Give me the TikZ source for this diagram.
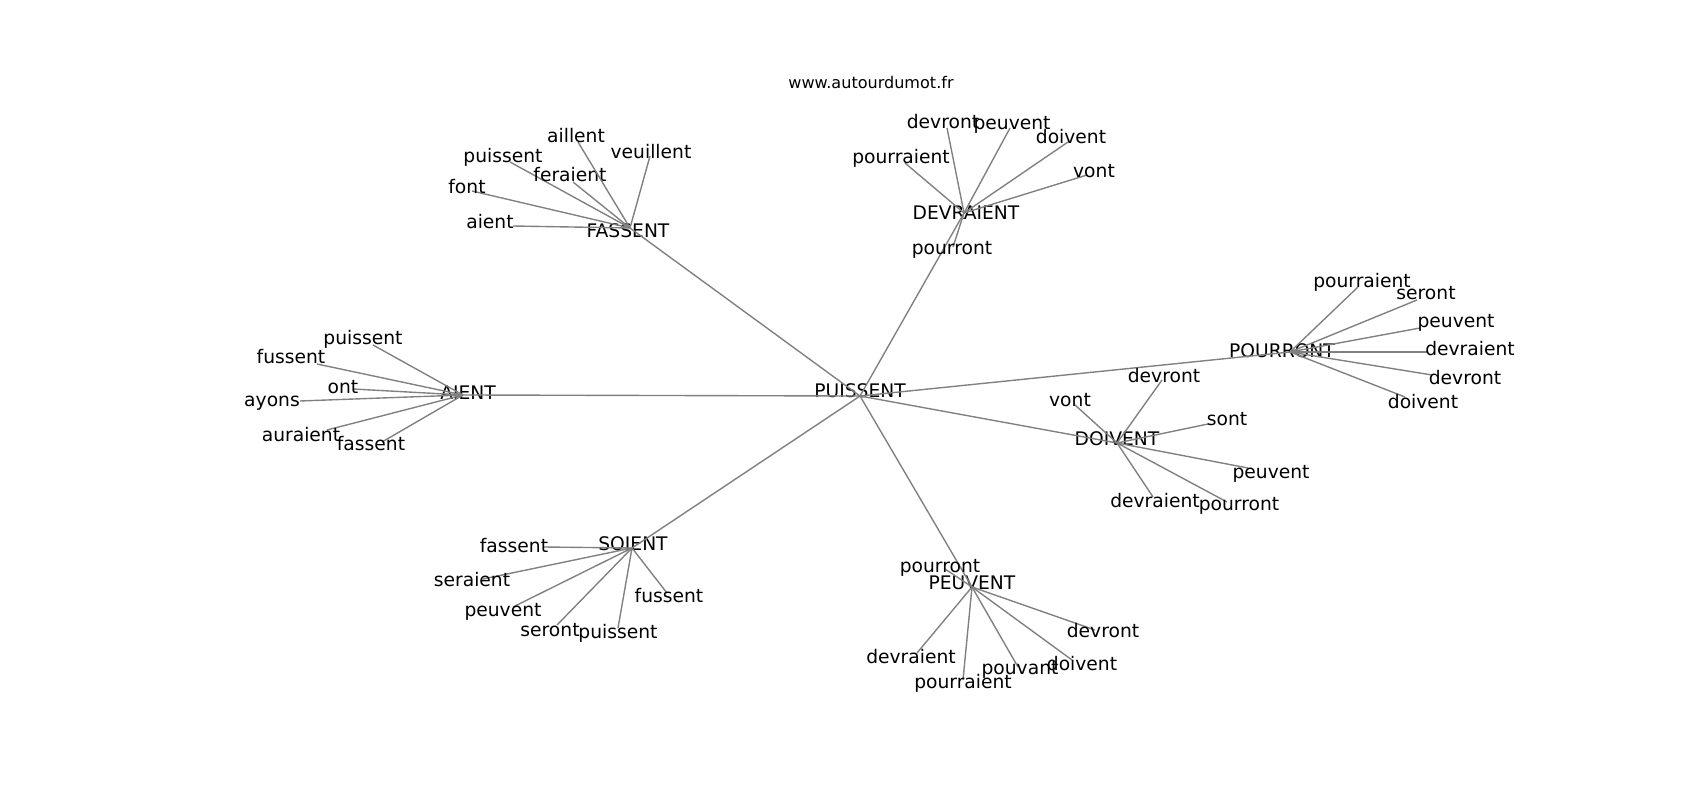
\documentclass[tikz,border=0pt]{standalone}
\usepackage{fontspec}
\setmainfont{DejaVu Sans}
\begin{document}
\begin{tikzpicture}[x=0.01in, y=-0.01in,
        edge/.style={draw=black!50, line width=1pt},
        word/.style={font=\fontsize{13.5}{16}\selectfont, inner sep=0pt, text height=10.3pt, text depth=2.8pt}]
        \def\hub#1(#2)(#3)#4{\coordinate (#1) at (#2); \node[word] (#1-t) at (#3) {#4};}
        \def\leaf#1#2(#3)(#4)#5{\coordinate (#1-#2) at (#3); \draw[edge] (#1) -- (#1-#2);
        \node[word] (#1-#2-t) at (#4) {#5};}

        \useasboundingbox (0,0) rectangle (1700,800);
        \node[font=\fontsize{11.6}{14}\selectfont, inner sep=0pt] (site) at (871,83) {www.autourdumot.fr};

        \hub puissent(860,396)(860,392){PUISSENT}
        \hub fassent(630,228)(628,232){FASSENT}
        \hub devraient(964,213)(966,214){DEVRAIENT}
        \hub pourront(1290,352)(1282,352){POURRONT}
        \hub doivent(1117,443)(1117,440){DOIVENT}
        \hub peuvent(972,587)(972,584){PEUVENT}
        \hub soient(632,548)(633,545){SOIENT}
        \hub aient(463,395)(468,394){AIENT}
        \foreach \h in {fassent, devraient, pourront, doivent, peuvent, soient, aient}
            \draw[edge] (puissent) -- (\h);

        \leaf{fassent}{aient}(513,226)(490,223){aient}
        \leaf{fassent}{font}(472,191)(467,188){font}
        \leaf{fassent}{puissent}(510,162)(503,157){puissent}
        \leaf{fassent}{feraient}(573,182)(570,176){feraient}
        \leaf{fassent}{aillent}(578,142)(576,137){aillent}
        \leaf{fassent}{veuillent}(650,156)(651,153){veuillent}

        \leaf{devraient}{devront}(947,128)(943,123){devront}
        \leaf{devraient}{peuvent}(1010,128)(1012,124){peuvent}
        \leaf{devraient}{doivent}(1068,142)(1071,138){doivent}
        \leaf{devraient}{vont}(1087,175)(1094,172){vont}
        \leaf{devraient}{pourraient}(905,163)(901,158){pourraient}
        \leaf{devraient}{pourront}(953,247)(952,249){pourront}

        \leaf{pourront}{pourraient}(1358,287)(1362,282){pourraient}
        \leaf{pourront}{seront}(1417,300)(1426,294){seront}
        \leaf{pourront}{peuvent}(1420,328)(1456,322){peuvent}
        \leaf{pourront}{devraient}(1427,352)(1470,350){devraient}
        \leaf{pourront}{devront}(1432,375)(1465,379){devront}
        \leaf{pourront}{doivent}(1405,397)(1423,403){doivent}

        \leaf{doivent}{devront}(1162,380)(1164,377){devront}
        \leaf{doivent}{vont}(1075,405)(1070,401){vont}
        \leaf{doivent}{sont}(1208,424)(1227,420){sont}
        \leaf{doivent}{peuvent}(1248,468)(1271,473){peuvent}
        \leaf{doivent}{devraient}(1153,497)(1155,502){devraient}
        \leaf{doivent}{pourront}(1227,502)(1239,505){pourront}

        \leaf{peuvent}{pourront}(945,569)(940,567){pourront}
        \leaf{peuvent}{devront}(1095,630)(1103,632){devront}
        \leaf{peuvent}{doivent}(1072,660)(1082,665){doivent}
        \leaf{peuvent}{pouvant}(1018,667)(1020,669){pouvant}
        \leaf{peuvent}{pourraient}(963,680)(963,683){pourraient}
        \leaf{peuvent}{devraient}(917,653)(911,658){devraient}

        \leaf{soient}{fassent}(543,547)(514,547){fassent}
        \leaf{soient}{seraient}(483,579)(472,581){seraient}
        \leaf{soient}{peuvent}(513,607)(503,611){peuvent}
        \leaf{soient}{seront}(557,625)(550,631){seront}
        \leaf{soient}{puissent}(618,628)(618,633){puissent}
        \leaf{soient}{fussent}(667,593)(669,597){fussent}

        \leaf{aient}{puissent}(373,345)(363,339){puissent}
        \leaf{aient}{fussent}(317,364)(291,358){fussent}
        \leaf{aient}{ont}(353,389)(343,388){ont}
        \leaf{aient}{ayons}(300,401)(272,401){ayons}
        \leaf{aient}{auraient}(327,430)(301,436){auraient}
        \leaf{aient}{fassent}(382,442)(371,445){fassent}
    \end{tikzpicture}
\end{document}
